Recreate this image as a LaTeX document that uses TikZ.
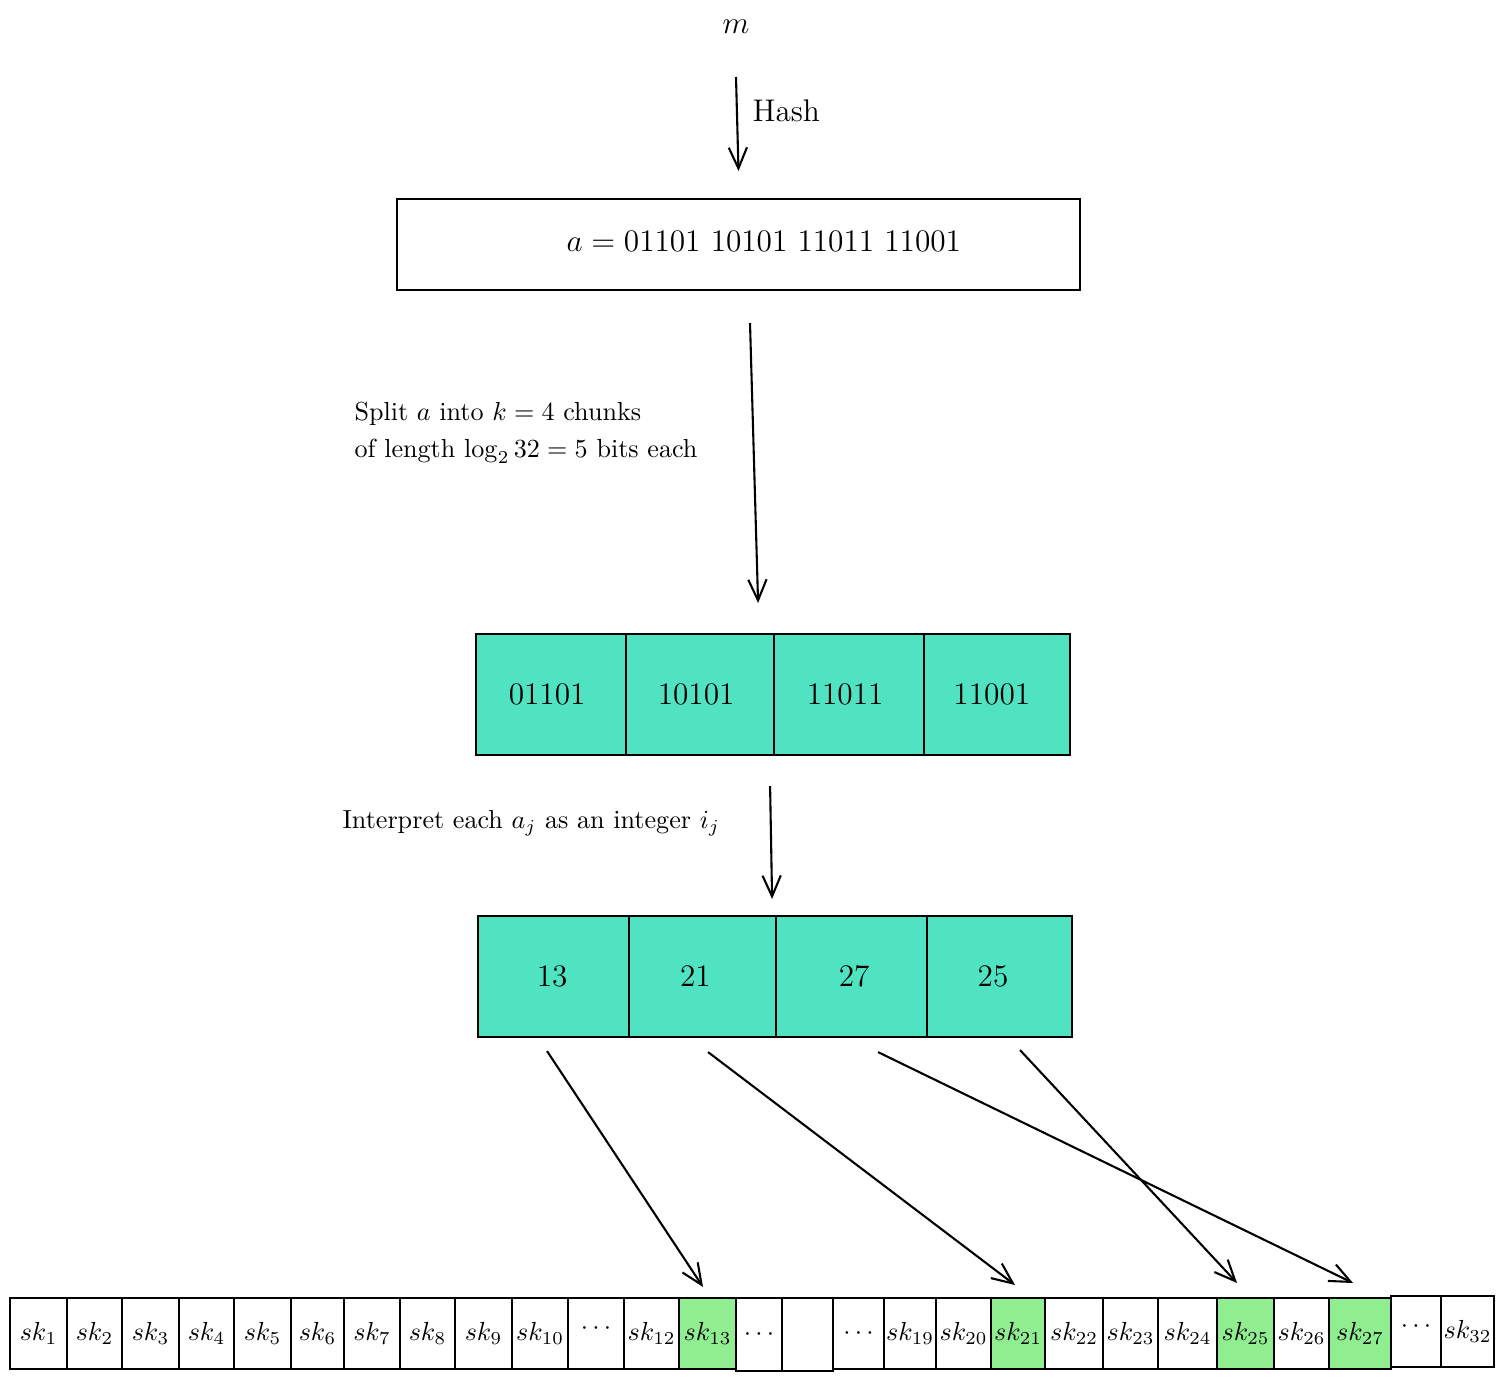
\documentclass[tikz,border=0pt]{standalone}
\usetikzlibrary{arrows.meta,calc}
\definecolor{tealfill}{RGB}{80,227,194}
\definecolor{greenfill}{RGB}{144,238,144}
\newcommand\pxu{0.383pt}
\newcommand\mycell[7]{\node[cellbox,fill=#6,minimum width={(#3-#2)*\pxu},minimum height={(#5-#4)*\pxu}] (#1) at (#2,#4) {#7};}
\begin{document}
\begin{tikzpicture}[x=\pxu,y=-\pxu,
  cellbox/.style={draw,line width=0.8pt,inner sep=0pt,anchor=north west},
  arr/.style={line width=0.8pt,-{Straight Barb[length=8pt,width=7pt]}},
  lbl/.style={inner sep=0pt,anchor=west}]
\useasboundingbox (0,0) rectangle (1502,1380);
% top
\node (m) at (736,27) {\large $m$};
\node[draw,line width=0.8pt,minimum width={683*\pxu},minimum height={91*\pxu},inner sep=0pt] (abox) at (738.5,244.5) {};
\node (atext) at (764,241) {\large $a = 01101\ 10101\ 11011\ 11001$};
\draw[arr] ($(m)+(0,50)$) -- ($(abox.north)+(0,-27)$);
\node[lbl] (hash) at (752,111) {\large Hash};
% chunks
\mycell{ch1}{475}{625}{633}{754}{tealfill}{\large 01101\kern3pt}
\mycell{ch2}{625}{773}{633}{754}{tealfill}{\large 10101\kern3pt}
\mycell{ch3}{773}{923}{633}{754}{tealfill}{\large 11011\kern3pt}
\mycell{ch4}{923}{1069}{633}{754}{tealfill}{\large 11001\kern4pt}
\draw[arr] ($(abox.south)+(11.5,32)$) -- ($(ch2.north east)+(-17,-30)$);
\node[lbl] (split1) at (354,414) {Split $a$ into $k = 4$ chunks};
\node[lbl] (split2) at (354,451) {of length $\log_2 32 = 5$ bits each};
% integers
\mycell{in1}{477}{628}{915}{1036}{tealfill}{\large 13\kern1pt}
\mycell{in2}{628}{775}{915}{1036}{tealfill}{\large 21\kern5.5pt}
\mycell{in3}{775}{926}{915}{1036}{tealfill}{\large \kern2pt 27}
\mycell{in4}{926}{1071}{915}{1036}{tealfill}{\large 25\kern5pt}
\draw[arr] ($(ch2.south east)+(-5,30)$) -- ($(in2.north east)+(-5,-16)$);
\node[lbl] (interp) at (342,823) {Interpret each $a_j$ as an integer $i_j$};
% bottom row
\mycell{b1}{9}{66}{1297}{1368}{white}{$sk_{1}$}
\mycell{b2}{66}{121}{1297}{1368}{white}{$sk_{2}$}
\mycell{b3}{121}{178}{1297}{1368}{white}{$sk_{3}$}
\mycell{b4}{178}{233}{1297}{1368}{white}{$sk_{4}$}
\mycell{b5}{233}{290}{1297}{1368}{white}{$sk_{5}$}
\mycell{b6}{290}{343}{1297}{1368}{white}{$sk_{6}$}
\mycell{b7}{343}{399}{1297}{1368}{white}{$sk_{7}$}
\mycell{b8}{399}{454}{1297}{1368}{white}{$sk_{8}$}
\mycell{b9}{454}{511}{1297}{1368}{white}{$sk_{9}$}
\mycell{b10}{511}{567}{1297}{1368}{white}{$sk_{10}$}
\mycell{b11}{567}{623}{1297}{1368}{white}{\raisebox{3.5pt}{$\cdots$}}
\mycell{b12}{623}{678}{1297}{1368}{white}{$sk_{12}$}
\mycell{b13}{678}{735}{1297}{1368}{greenfill}{$sk_{13}$}
\mycell{b14}{735}{781}{1297}{1370}{white}{$\cdots$}
\mycell{b15}{781}{832}{1297}{1370}{white}{}
\mycell{b16}{832}{883}{1297}{1368}{white}{$\cdots$}
\mycell{b17}{883}{935}{1297}{1368}{white}{$sk_{19}$}
\mycell{b18}{935}{990}{1297}{1368}{white}{$sk_{20}$}
\mycell{b19}{990}{1044}{1297}{1368}{greenfill}{$sk_{21}$}
\mycell{b20}{1044}{1102}{1297}{1368}{white}{$sk_{22}$}
\mycell{b21}{1102}{1157}{1297}{1368}{white}{$sk_{23}$}
\mycell{b22}{1157}{1216}{1297}{1368}{white}{$sk_{24}$}
\mycell{b23}{1216}{1273}{1297}{1368}{greenfill}{$sk_{25}$}
\mycell{b24}{1273}{1328}{1297}{1368}{white}{$sk_{26}$}
\mycell{b25}{1328}{1390}{1297}{1368}{greenfill}{$sk_{27}$}
\mycell{b26}{1390}{1440}{1295}{1366}{white}{\raisebox{3.5pt}{$\cdots$}}
\mycell{b27}{1440}{1493}{1295}{1366}{white}{$sk_{32}$}
% mapping arrows
\draw[arr] ($(in1.south)+(-6.5,13)$) -- ($(b13.north)+(-4.5,-10)$);
\draw[arr] ($(in2.south)+(5.5,14)$) -- ($(b19.north)+(-3,-12)$);
\draw[arr] ($(in3.south)+(26.5,14)$) -- ($(b25.north)+(-7,-14)$);
\draw[arr] ($(in4.south)+(20.5,12)$) -- ($(b23.north)+(-8.5,-14)$);
\end{tikzpicture}
\end{document}
